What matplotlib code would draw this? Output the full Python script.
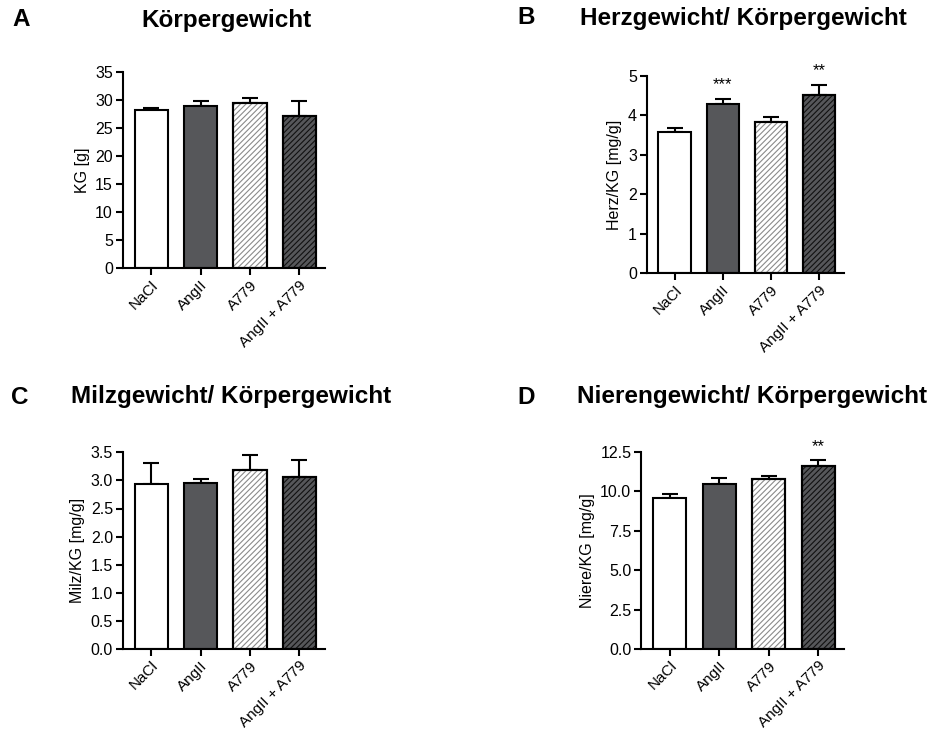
import matplotlib
matplotlib.use("Agg")
import matplotlib.pyplot as plt
import numpy as np

plt.rcParams['font.family'] = ['Liberation Sans', 'DejaVu Sans']
plt.rcParams['hatch.linewidth'] = 0.8

groups = ["NaCl", "AngII", "A779", "AngII + A779"]

# Means and SEM per panel
kg_mean = [28.3, 29.0, 29.6, 27.2]
kg_sem = [0.25, 0.9, 0.9, 2.6]

herz_mean = [3.57, 4.28, 3.83, 4.53]
herz_sem = [0.12, 0.13, 0.14, 0.25]
herz_sig = ["", "***", "", "**"]

milz_mean = [2.94, 2.96, 3.19, 3.06]
milz_sem = [0.37, 0.06, 0.27, 0.30]

niere_mean = [9.55, 10.47, 10.77, 11.57]
niere_sem = [0.28, 0.36, 0.19, 0.38]
niere_sig = ["", "", "", "**"]

bar_fill = ["white", "#56575a", "white", "#56575a"]
bar_hatch = [None, None, "//////", "//////"]
hatch_col = [None, None, "#8a8a8a", "#111111"]

W, H = 935, 729
fig = plt.figure(figsize=(W / 100, H / 100), dpi=100)


def add_axes_px(left, right, top, bottom):
    return fig.add_axes([left / W, (H - bottom) / H, (right - left) / W, (bottom - top) / H])


def panel(ax, means, sems, ylim, yticks, ylabel, sig=None, fmt=None):
    x = np.arange(len(groups))
    for i in x:
        ax.bar(i, means[i], width=0.67, color=bar_fill[i], edgecolor="black",
               linewidth=1.5, zorder=2)
        if bar_hatch[i]:
            ax.bar(i, means[i], width=0.67, color="none", edgecolor=hatch_col[i],
                   hatch=bar_hatch[i], linewidth=0, zorder=3)
            ax.bar(i, means[i], width=0.67, color="none", edgecolor="black",
                   linewidth=1.5, zorder=4)
    ax.errorbar(x, means, yerr=[np.zeros(len(sems)), sems], fmt="none", ecolor="black",
                elinewidth=1.5, capsize=6, capthick=1.5, zorder=1)
    if sig:
        for i, s in enumerate(sig):
            if s:
                ax.annotate(s, (i, means[i] + sems[i]), xytext=(0, 7), textcoords="offset points",
                            ha="center", va="baseline", fontsize=12)
    ax.set_xlim(-0.58, 3.52)
    ax.set_ylim(*ylim)
    ax.set_yticks(yticks)
    if fmt:
        ax.set_yticklabels([fmt.format(v) for v in yticks])
    ax.set_xticks(x)
    ax.set_xticklabels(groups, rotation=45, ha="right", rotation_mode="anchor")
    for s in ("top", "right"):
        ax.spines[s].set_visible(False)
    for s in ("left", "bottom"):
        ax.spines[s].set_linewidth(1.5)
    ax.tick_params(axis="both", width=1.5, length=5, pad=2)
    ax.tick_params(axis="y", labelsize=11.5)
    ax.tick_params(axis="x", labelsize=11)
    ax.set_ylabel(ylabel, fontsize=11.5, labelpad=4)


axA = add_axes_px(122.7, 325, 72.3, 268.3)
panel(axA, kg_mean, kg_sem, (0, 35), np.arange(0, 36, 5), "KG [g]")

axB = add_axes_px(646.7, 844, 76, 273.3)
panel(axB, herz_mean, herz_sem, (0, 5), np.arange(0, 6, 1), "Herz/KG [mg/g]", sig=herz_sig)

axC = add_axes_px(122.7, 325, 452.3, 649)
panel(axC, milz_mean, milz_sem, (0, 3.5), np.arange(0, 3.51, 0.5), "Milz/KG [mg/g]", fmt="{:.1f}")

axD = add_axes_px(641, 844, 451.7, 649)
panel(axD, niere_mean, niere_sem, (0, 12.5), np.arange(0, 12.6, 2.5), "Niere/KG [mg/g]",
      sig=niere_sig, fmt="{:.1f}")

# Panel letters and titles
heads = [
    ("A", 21, 20, "Körpergewicht", 226),
    ("B", 526, 18, "Herzgewicht/ Körpergewicht", 743),
    ("C", 20, 397, "Milzgewicht/ Körpergewicht", 231),
    ("D", 526, 397, "Nierengewicht/ Körpergewicht", 752),
]
for letter, lx, y, title, tx in heads:
    fig.text(lx / W, 1 - y / H, letter, ha="center", va="center", fontsize=17.5, fontweight="bold")
    fig.text(tx / W, 1 - y / H, title, ha="center", va="center", fontsize=17.5, fontweight="bold")

fig.savefig("out.png", dpi=100, facecolor="white")
